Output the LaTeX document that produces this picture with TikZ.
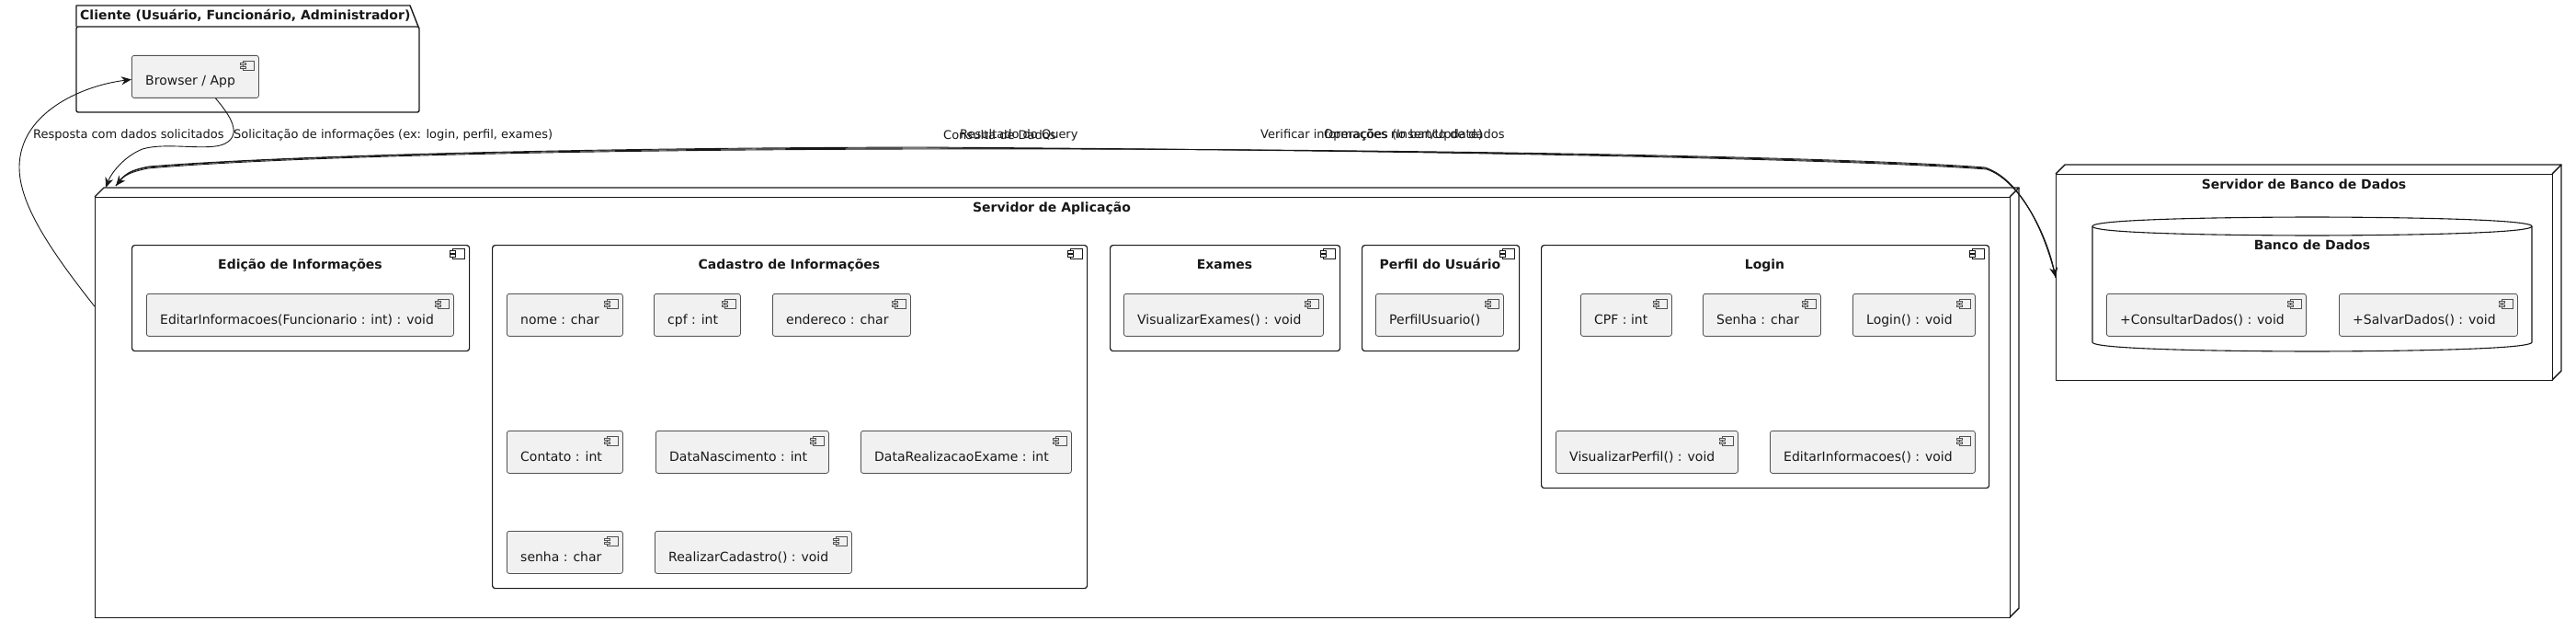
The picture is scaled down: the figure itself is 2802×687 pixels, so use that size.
\documentclass[tikz,border=0pt]{standalone}
\usepackage{fontspec}
\setmainfont{DejaVu Sans}
\usetikzlibrary{arrows.meta}
\definecolor{compfill}{HTML}{F1F1F1}
\definecolor{ln}{HTML}{181818}
\tikzset{
 comp/.style={draw=ln!75, fill=compfill, rounded corners=2.5pt, line width=0.8pt, anchor=north west, inner sep=0pt},
 cont/.style={draw=ln, fill=white, rounded corners=3pt, line width=1.2pt, anchor=north west, inner sep=0pt},
 frontbox/.style={draw=ln, fill=white, line width=1.4pt, anchor=north west, inner sep=0pt},
 face/.style={draw=ln, line width=1.4pt, line join=round},
 ctext/.style={font=\fontsize{14}{16}\selectfont, anchor=base west, inner sep=0pt, text=ln},
 ttl/.style={font=\fontsize{14}{16}\selectfont\bfseries, inner sep=0pt, anchor=base, text=ln},
 elab/.style={font=\fontsize{13}{15}\selectfont, inner sep=0pt, anchor=west, text=ln},
 icon/.style={draw=ln!75, fill=compfill, line width=0.6pt},
 cicon/.style={draw=ln, fill=white, line width=0.9pt},
 conn/.style={draw=ln, line width=0.9pt, -{Stealth[length=11pt,width=9pt,inset=3.5pt]}},
 plain/.style={draw=ln, line width=0.9pt},
}
\newcommand{\compbox}[6]{%
 \node[comp, minimum width={(#4-#2)*1pt}, minimum height={(#5-#3)*1pt}] (#1) at (#2,#3) {};
 \node[ctext] (#1-t) at ({#2+15},{#3+33}) {#6};
 \draw[icon] ({#4-17},{#3+6}) rectangle ({#4-5},{#3+16});
 \draw[icon] ({#4-20},{#3+8}) rectangle ++(6,2.5);
 \draw[icon] ({#4-20},{#3+12}) rectangle ++(6,2.5);
}
\newcommand{\contbox}[6]{%
 \node[cont, minimum width={(#4-#2)*1pt}, minimum height={(#5-#3)*1pt}] (#1) at (#2,#3) {};
 \node[ttl] (#1-t) at ({(#2+#4)/2},{#3+26}) {#6};
 \draw[cicon] ({#4-18},{#3+4}) rectangle ({#4-5},{#3+15});
 \draw[cicon] ({#4-21},{#3+6.5}) rectangle ++(6,2.5);
 \draw[cicon] ({#4-21},{#3+10.5}) rectangle ++(6,2.5);
}
\begin{document}
\begin{tikzpicture}[x=1pt,y=-1pt]
\fill[white] (0,0) rectangle (2802,687);
\useasboundingbox (0,0) rectangle (2802,687);

% ---------- Cliente package ----------
\node[inner sep=0pt, anchor=north west, minimum width=373pt, minimum height=93pt] (cliente) at (83,29) {};
\draw[face, line width=1.4pt] (83,29) -- (83,6) -- (446,6) -- (455,29);
\draw[face, line width=1.4pt, rounded corners=2pt] (83,29) -- (456,29) -- (456,122) -- (83,122) -- cycle;
\node[ttl, anchor=base west] (cliente-t) at (87,22) {Cliente (Usuário, Funcionário, Administrador)};
\compbox{browser}{143}{60}{281}{106}{Browser / App}

% ---------- Servidor de Aplicação ----------
\node[frontbox, minimum width=2083pt, minimum height=457pt] (srv) at (103,214) {};
\draw[face] (103,214) -- (113,204) -- (2196,204) -- (2186,214);
\draw[face] (2196,204) -- (2196,661) -- (2186,671);
\node[ttl] (srv-t) at (1144,230) {Servidor de Aplicação};

\contbox{edic}{143}{266}{510}{381}{Edição de Informações}
\compbox{editarf}{159}{319}{493}{365}{EditarInformacoes(Funcionario : int) : void}

\contbox{cad}{535}{266}{1182}{639}{Cadastro de Informações}
\compbox{nome}{551}{319}{677}{365}{nome : char}
\compbox{cpfc}{711}{319}{805}{365}{cpf : int}
\compbox{endereco}{840}{319}{990}{365}{endereco : char}
\compbox{contato}{551}{468}{677}{514}{Contato : int}
\compbox{datanasc}{713}{468}{901}{514}{DataNascimento : int}
\compbox{datareal}{936}{468}{1165}{514}{DataRealizacaoExame : int}
\compbox{senhac}{551}{577}{677}{623}{senha : char}
\compbox{realizar}{712}{577}{926}{623}{RealizarCadastro() : void}

\contbox{exames}{1207}{266}{1457}{381}{Exames}
\compbox{visex}{1222}{319}{1439}{365}{VisualizarExames() : void}

\contbox{perfil}{1481}{266}{1652}{381}{Perfil do Usuário}
\compbox{perfilu}{1496}{319}{1635}{365}{PerfilUsuario()}

\contbox{login}{1676}{266}{2163}{530}{Login}
\compbox{cpfl}{1719}{319}{1818}{365}{CPF : int}
\compbox{senhal}{1852}{319}{1980}{365}{Senha : char}
\compbox{loginf}{2015}{319}{2148}{365}{Login() : void}
\compbox{visperf}{1692}{468}{1890}{514}{VisualizarPerfil() : void}
\compbox{editarl}{1925}{468}{2148}{514}{EditarInformacoes() : void}

% ---------- Servidor de Banco de Dados ----------
\node[frontbox, minimum width=540pt, minimum height=224pt] (dbsrv) at (2236,189) {};
\draw[face] (2236,189) -- (2246,179) -- (2786,179) -- (2776,189);
\draw[face] (2786,179) -- (2786,403) -- (2776,413);
\node[ttl] (dbsrv-t) at (2506,205) {Servidor de Banco de Dados};

\node[inner sep=0pt, anchor=north west, minimum width=478pt, minimum height=146pt] (db) at (2276,236) {};
\draw[plain, line width=1.1pt] (2276,246) .. controls (2276,236) and (2515,236) .. (2515,236)
  .. controls (2515,236) and (2754,236) .. (2754,246)
  -- (2754,372) .. controls (2754,382) and (2515,382) .. (2515,382)
  .. controls (2515,382) and (2276,382) .. (2276,372) -- cycle;
\draw[plain, line width=1.1pt] (2276,246) .. controls (2276,256) and (2515,256) .. (2515,256)
  .. controls (2515,256) and (2754,256) .. (2754,246);
\node[ttl] (db-t) at (2515,271) {Banco de Dados};
\compbox{consultar}{2291}{319}{2508}{365}{+ConsultarDados() : void}
\compbox{salvar}{2544}{319}{2738}{365}{+SalvarDados() : void}

% ---------- Connectors ----------
% Browser -> Servidor (Solicitacao)
\draw[conn] ([xshift=22pt]browser.south) .. controls (250,125) and (264,146) .. (245,156)
  .. controls (228,165) and (182,154) .. (155,162)
  .. controls (135,170) and (121,188) .. ([shift={(12pt,10pt)}]srv.north west);
% Servidor -> Browser (Resposta)
\draw[conn] ([yshift=110pt]srv.west) .. controls (45,260) and (15,210) .. (22,170)
  .. controls (30,120) and (90,93) .. ([yshift=-3pt]browser.west);
% Servidor -> Banco (Consulta / Verificar / Operacoes)
\draw[conn] ([shift={(23pt,12pt)}]srv.north west) .. controls (135,190) and (140,186) .. (160,182)
  .. controls (300,170) and (600,162) .. (1000,161)
  .. controls (1500,162) and (2000,171) .. (2160,183)
  .. controls (2195,195) and (2225,250) .. (dbsrv.west);
\draw[plain] ([shift={(23pt,12pt)}]srv.north west) .. controls (135,189) and (141,185) .. (162,181)
  .. controls (300,170) and (600,161) .. (1000,160)
  .. controls (1500,163) and (2000,172) .. (2161,184)
  .. controls (2196,196) and (2225,250) .. (dbsrv.west);
% Banco -> Servidor (Resultado do Query)
\draw[conn] (dbsrv.west) .. controls (2224,251) and (2197,194) .. (2159,182)
  .. controls (2000,170) and (1500,161) .. (1000,162)
  .. controls (600,163) and (300,171) .. (161,183)
  .. controls (141,187) and (135,191) .. ([shift={(23pt,12pt)}]srv.north west);

% ---------- Edge labels ----------
\node[elab] (l-resp) at (36,147) {Resposta com dados solicitados};
\node[elab] (l-sol) at (254,147) {Solicitação de informações (ex: login, perfil, exames)};
\node[elab] (l-cons) at (1026,147) {Consulta de Dados};
\node[elab] (l-res) at (1044,147) {Resultado do Query};
\node[elab] (l-ver) at (1371,147) {Verificar informações no banco de dados};
\node[elab] (l-op) at (1440,147) {Operações (Insert/Update)};
\end{tikzpicture}
\end{document}
